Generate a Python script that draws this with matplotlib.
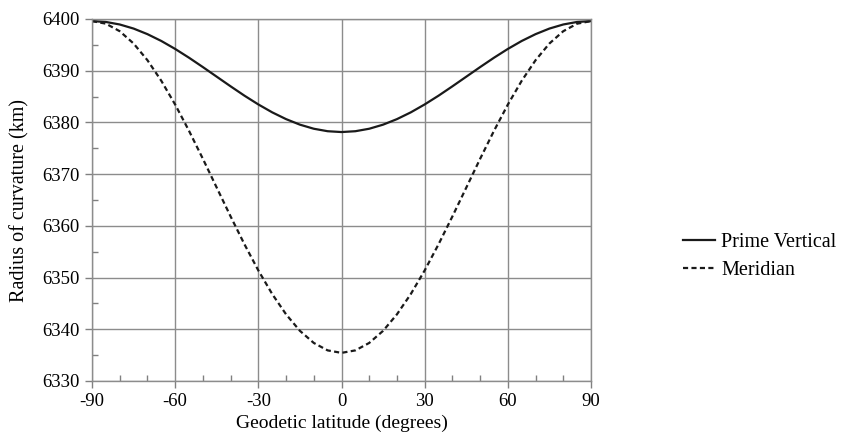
import numpy as np
import matplotlib
matplotlib.use('Agg')
import matplotlib.pyplot as plt
import matplotlib.ticker as ticker

# values, every 5 degrees of latitude (0..90, symmetric)
lat_half = [0, 5, 10, 15, 20, 25, 30, 35, 40, 45, 50, 55, 60, 65, 70, 75, 80, 85, 90]
prime_half = [6378.14, 6378.30, 6378.78, 6379.57, 6380.64, 6381.95, 6383.48,
              6385.17, 6386.98, 6388.84, 6390.70, 6392.51, 6394.21, 6395.75,
              6397.07, 6398.15, 6398.94, 6399.43, 6399.59]
merid_half = [6335.44, 6335.92, 6337.36, 6339.70, 6342.89, 6346.82, 6351.38,
              6356.43, 6361.82, 6367.38, 6372.96, 6378.37, 6383.45, 6388.05,
              6392.03, 6395.26, 6397.64, 6399.10, 6399.59]

lat = np.array([-v for v in lat_half[:0:-1]] + lat_half)
prime = np.array(prime_half[:0:-1] + prime_half)
merid = np.array(merid_half[:0:-1] + merid_half)

xticks = [-90, -60, -30, 0, 30, 60, 90]
yticks = [6330, 6340, 6350, 6360, 6370, 6380, 6390, 6400]

plt.rcParams['font.family'] = ['Liberation Serif', 'DejaVu Serif']
plt.rcParams['font.size'] = 13.5

fig = plt.figure(figsize=(8.48, 4.42), dpi=100)
ax = fig.add_axes([92/848, 1-381/442, (591-92)/848, (381-19)/442])

ax.plot(lat, prime, c='#1a1a1a', lw=1.6, label='Prime Vertical')
ax.plot(lat, merid, c='#1a1a1a', lw=1.6, ls=(0, (2.3, 1.5)), label='Meridian')

ax.set_xlim(-90, 90)
ax.set_ylim(6330, 6400)
ax.set_xticks(xticks)
ax.set_xticklabels([str(v) for v in xticks])
ax.set_yticks(yticks)
ax.xaxis.set_minor_locator(ticker.MultipleLocator(10))
ax.yaxis.set_minor_locator(ticker.MultipleLocator(5))

ax.tick_params(which='major', direction='out', length=5, width=1, color='#808080', pad=4)
ax.tick_params(which='minor', direction='in', length=4, width=1, color='#808080')
ax.grid(True, which='major', color='#8c8c8c', lw=1)

for s in ax.spines.values():
    s.set_color('#8c8c8c')
    s.set_linewidth(1)

ax.set_xlabel('Geodetic latitude (degrees)', fontsize=14, labelpad=3)
ax.set_ylabel('Radius of curvature (km)', fontsize=14.5, labelpad=9)

ax.legend(loc='center left', bbox_to_anchor=(683/848, 1-256.5/442),
          bbox_transform=fig.transFigure, frameon=False, borderpad=0,
          borderaxespad=0, handlelength=1.6, handletextpad=0.3,
          labelspacing=0.45, fontsize=14.5)

fig.savefig('out.png', dpi=100)
